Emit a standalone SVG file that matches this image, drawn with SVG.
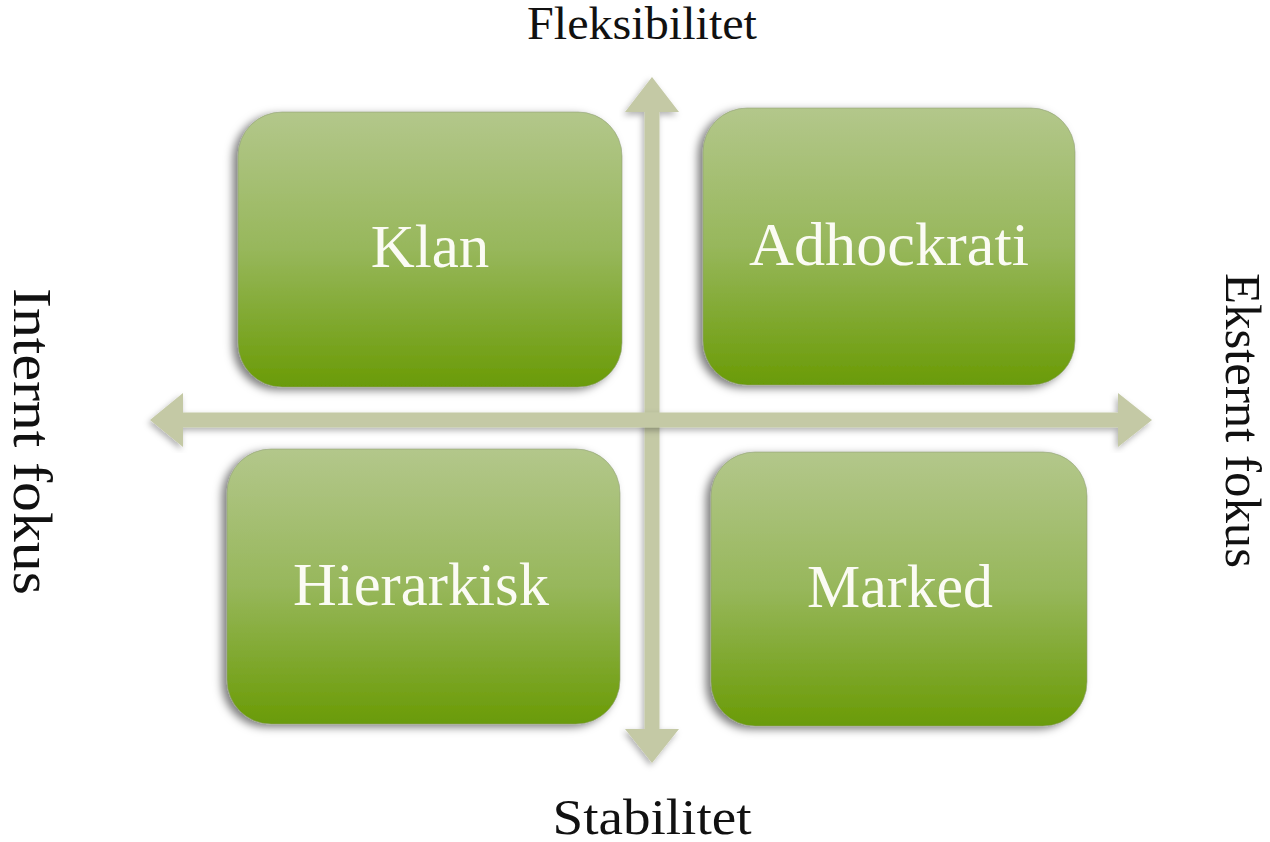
<svg xmlns="http://www.w3.org/2000/svg" width="1270" height="842" viewBox="0 0 1270 842">
  <style>
    .box { fill: url(#gGreen); stroke: #8f9f77; stroke-opacity: 0.6; stroke-width: 1; filter: url(#shadow); }
    .lbl { font-family: "Liberation Serif", "DejaVu Serif", serif; fill: #fbfbf4; font-size: 61px; text-anchor: middle; }
    .axis { font-family: "Liberation Serif", "DejaVu Serif", serif; fill: #111111; }
    .arrow { fill: #c4c9a5; filter: url(#ashadow); }
  </style>
  <defs>
    <linearGradient id="gGreen" x1="0" y1="0" x2="0" y2="1">
      <stop offset="0" stop-color="#b3c78b"/>
      <stop offset="0.5" stop-color="#97b75b"/>
      <stop offset="1" stop-color="#6a9b06"/>
    </linearGradient>
    <filter id="shadow" x="-10%" y="-10%" width="120%" height="125%">
      <feDropShadow dx="-5" dy="3" stdDeviation="4" flood-color="#000" flood-opacity="0.5"/>
    </filter>
    <filter id="ashadow" x="-10%" y="-10%" width="120%" height="120%">
      <feDropShadow dx="-2" dy="3" stdDeviation="3" flood-color="#000" flood-opacity="0.3"/>
    </filter>
  </defs>
  <rect width="1270" height="842" fill="#ffffff"/>

  <g id="connectors">
    <polygon class="arrow" points="652,77 679,112 659.5,112 659.5,729 679,729 652,763 625,729 644.5,729 644.5,112 625,112"/>
    <polygon class="arrow" points="150,420 183,393 183,412.5 1118,412.5 1118,393 1152,420 1118,447 1118,427.5 183,427.5 183,447"/>
  </g>

  <g id="node-klan">
    <rect class="box" x="238" y="112" width="384" height="275" rx="44" ry="44"/>
    <text class="lbl" x="430" y="267">Klan</text>
  </g>
  <g id="node-adhockrati">
    <rect class="box" x="703" y="108" width="372" height="277" rx="44" ry="44"/>
    <text class="lbl" x="889" y="265" textLength="280" lengthAdjust="spacingAndGlyphs">Adhockrati</text>
  </g>
  <g id="node-hierarkisk">
    <rect class="box" x="227" y="449" width="393" height="275" rx="44" ry="44"/>
    <text class="lbl" x="421" y="605" textLength="256" lengthAdjust="spacingAndGlyphs">Hierarkisk</text>
  </g>
  <g id="node-marked">
    <rect class="box" x="711" y="452" width="376" height="274" rx="44" ry="44"/>
    <text class="lbl" x="900" y="607" textLength="186" lengthAdjust="spacingAndGlyphs">Marked</text>
  </g>

  <g id="axis-labels">
    <text class="axis" x="642" y="39" font-size="46" text-anchor="middle" textLength="230" lengthAdjust="spacingAndGlyphs">Fleksibilitet</text>
    <text class="axis" x="652" y="834" font-size="50" text-anchor="middle" textLength="199" lengthAdjust="spacingAndGlyphs">Stabilitet</text>
    <text class="axis" transform="translate(14,288) rotate(90)" x="0" y="0" font-size="54" textLength="307" lengthAdjust="spacingAndGlyphs">Internt fokus</text>
    <text class="axis" transform="translate(1226,273) rotate(90)" x="0" y="0" font-size="50" textLength="295" lengthAdjust="spacingAndGlyphs">Eksternt fokus</text>
  </g>
</svg>
